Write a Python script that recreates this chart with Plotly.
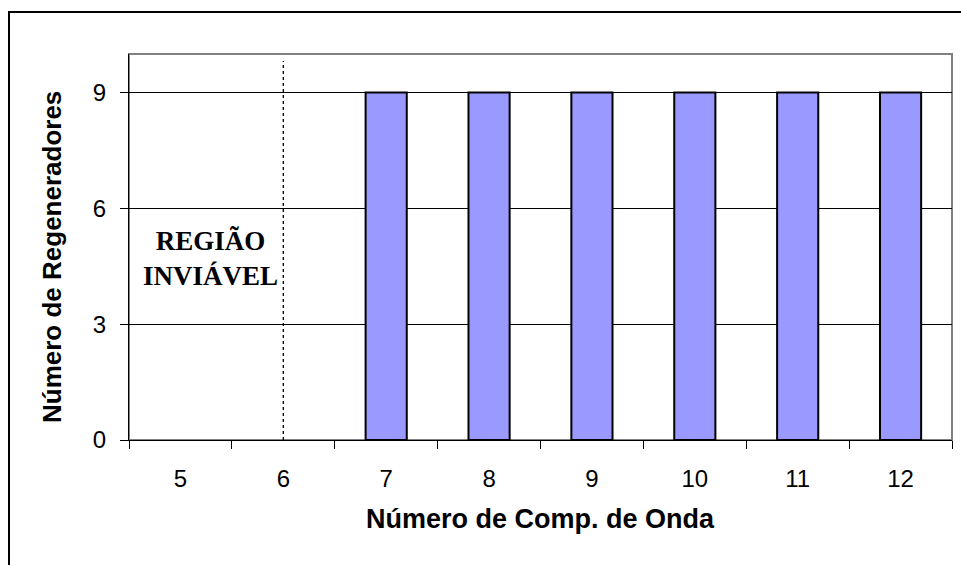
import plotly.graph_objects as go

categories = ["5", "6", "7", "8", "9", "10", "11", "12"]
regeneradores = [None, None, 9, 9, 9, 9, 9, 9]
y_ticks = [0, 3, 6, 9]
x_title = "Número de Comp. de Onda"
y_title = "Número de Regeneradores"
region_label = "REGIÃO<br>INVIÁVEL"
boundary_category = "6"

W, H = 961, 565
L, R, T, B = 129, 9, 54, 125
pw, ph = W - L - R, H - T - B

def px(x):
    return (x - L) / pw

def py(y):
    return (H - B - y) / ph

fig = go.Figure()
fig.add_trace(go.Bar(
    x=categories, y=regeneradores,
    marker=dict(color="#9999FF", line=dict(color="black", width=2)),
))

fig.update_layout(
    width=W, height=H,
    margin=dict(l=L, r=R, t=T, b=B),
    paper_bgcolor="white", plot_bgcolor="white",
    bargap=0.6, showlegend=False,
    font=dict(family="Liberation Sans, Arial", color="black"),
)
fig.update_xaxes(
    type="category", categoryorder="array", categoryarray=categories,
    tickson="boundaries", ticks="outside", ticklen=8, tickcolor="black", tickwidth=1,
    showline=True, linecolor="black", linewidth=1,
    showgrid=False, tickfont=dict(size=24), ticklabelstandoff=17,
)
fig.update_yaxes(
    range=[0, 10], tickvals=y_ticks, ticks="outside", ticklen=8, tickcolor="black",
    showline=True, linecolor="black", linewidth=1,
    showgrid=True, gridcolor="black", gridwidth=1, zeroline=False,
    tickfont=dict(size=24), ticklabelstandoff=9,
)

# plot-area border (gray) and outer chart border
fig.add_shape(type="rect", xref="paper", yref="paper", x0=0, x1=1, y0=0, y1=1,
              line=dict(color="#808080", width=2), layer="below")
fig.add_shape(type="rect", xref="paper", yref="paper",
              x0=px(9), x1=px(W + 20), y0=py(H + 20), y1=py(12),
              line=dict(color="black", width=2), layer="below")
# dotted boundary line at the centre of the boundary category
bx = categories.index(boundary_category)
fig.add_shape(type="line", xref="x", yref="paper",
              x0=bx, x1=bx, y0=0, y1=py(61),
              line=dict(color="black", width=1.3, dash="dot"))

fig.add_annotation(text="<b>" + region_label + "</b>", xref="paper", yref="paper",
                   x=px(210), y=py(258), xanchor="center", yanchor="middle",
                   showarrow=False,
                   font=dict(family="Liberation Serif, Times New Roman", size=27, color="black"),
                   align="center")
fig.add_annotation(text="<b>" + x_title + "</b>", xref="paper", yref="paper",
                   x=px(540), y=py(519), xanchor="center", yanchor="middle",
                   showarrow=False, font=dict(size=27))
fig.add_annotation(text="<b>" + y_title + "</b>", xref="paper", yref="paper",
                   x=px(52), y=py(257), xanchor="center", yanchor="middle",
                   showarrow=False, textangle=-90, font=dict(size=26))

fig.write_html("out.html")
